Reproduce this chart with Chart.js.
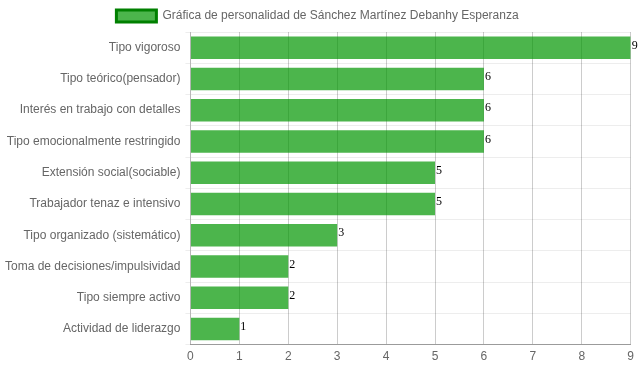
<!DOCTYPE html>
<html>
<head>
<meta charset="utf-8">
<script src="https://cdn.jsdelivr.net/npm/chart.js@4.4.1/dist/chart.umd.min.js"></script>
<style>
html,body{margin:0;padding:0;background:#fff;}
#wrap{width:639px;height:372px;position:relative;}
</style>
</head>
<body>
<div id="wrap"><canvas id="c" width="639" height="372"></canvas></div>
<script>
const categories = [
  "Tipo vigoroso",
  "Tipo teórico(pensador)",
  "Interés en trabajo con detalles",
  "Tipo emocionalmente restringido",
  "Extensión social(sociable)",
  "Trabajador tenaz e intensivo",
  "Tipo organizado (sistemático)",
  "Toma de decisiones/impulsividad",
  "Tipo siempre activo",
  "Actividad de liderazgo"
];
const values = [9, 6, 6, 6, 5, 5, 3, 2, 2, 1];
const seriesLabel = "Gráfica de personalidad de Sánchez Martínez Debanhy Esperanza";

const valueLabels = {
  id: 'valueLabels',
  afterDatasetsDraw(chart) {
    const ctx = chart.ctx;
    const meta = chart.getDatasetMeta(0);
    ctx.save();
    ctx.font = '12px "Liberation Serif", "Times New Roman", serif';
    ctx.fillStyle = '#000';
    ctx.textAlign = 'left';
    ctx.textBaseline = 'middle';
    meta.data.forEach((bar, i) => {
      ctx.fillText(String(chart.data.datasets[0].data[i]), bar.x + 1, bar.y - 2);
    });
    ctx.restore();
  }
};

Chart.defaults.font.family = '"Liberation Sans", Arial, Helvetica, sans-serif';
Chart.defaults.font.size = 12;
Chart.defaults.color = '#666';

new Chart(document.getElementById('c'), {
  type: 'bar',
  data: {
    labels: categories,
    datasets: [{
      label: seriesLabel,
      data: values,
      backgroundColor: 'rgba(0,150,0,0.7)',
      borderColor: 'rgb(0,128,0)',
      borderWidth: 0,
      categoryPercentage: 0.8,
      barPercentage: 0.9
    }]
  },
  options: {
    indexAxis: 'y',
    responsive: false,
    animation: false,
    devicePixelRatio: 1,
    layout: { padding: { left: 0, right: 4, top: 0, bottom: 3 } },
    plugins: {
      legend: {
        display: true,
        position: 'top',
        labels: {
          boxWidth: 40,
          boxHeight: 12,
          padding: 10,
          color: '#666',
          font: { size: 12 },
          generateLabels(chart) {
            return [{
              text: seriesLabel,
              fillStyle: 'rgba(0,150,0,0.7)',
              strokeStyle: 'rgb(0,128,0)',
              fontColor: '#666',
              lineWidth: 3,
              hidden: false,
              datasetIndex: 0
            }];
          }
        }
      },
      tooltip: { enabled: false }
    },
    scales: {
      x: {
        min: 0,
        max: 9,
        ticks: { stepSize: 1, color: '#666', padding: 5 },
        grid: { color: 'rgba(0,0,0,0.2)', drawTicks: false },
        border: { color: 'rgba(0,0,0,0.35)' }
      },
      y: {
        ticks: { color: '#666', padding: 5 },
        grid: { color: 'rgba(0,0,0,0.07)', offset: true, tickLength: 5 },
        border: { color: 'rgba(0,0,0,0.1)' }
      }
    }
  },
  plugins: [valueLabels]
});
</script>
</body>
</html>
